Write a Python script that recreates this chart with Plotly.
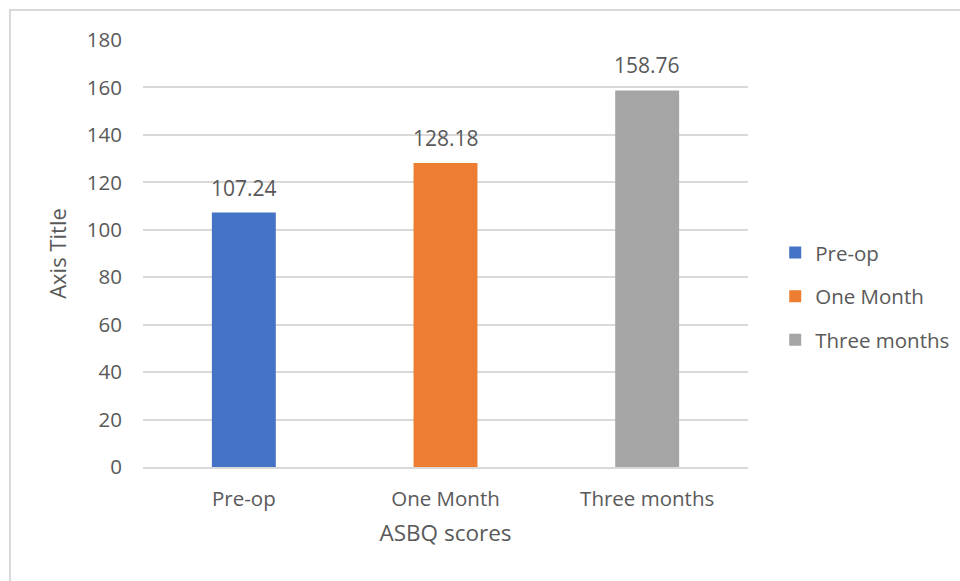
import plotly.graph_objects as go

# ASBQ scores at each follow-up point
categories = ["Pre-op", "One Month", "Three months"]
scores = [107.24, 128.18, 158.76]
colors = ["#4472C4", "#ED7D31", "#A5A5A5"]
y_ticks = [0, 20, 40, 60, 80, 100, 120, 140, 160, 180]

FONT = "Open Sans, Noto Sans, sans-serif"
TEXT = "#595959"

fig = go.Figure()
for i, (cat, val, col) in enumerate(zip(categories, scores, colors)):
    fig.add_trace(go.Bar(
        x=[cat], y=[val], name=cat,
        marker=dict(color=col, line=dict(width=0)),
        width=0.317,
        legendgroup=f"g{i}",
    ))
    # value label above each bar
    fig.add_annotation(
        x=cat, y=val, text=f"{val:.2f}", showarrow=False,
        yanchor="bottom", yshift=9,
        font=dict(size=21, color=TEXT, family=FONT),
    )

fig.update_layout(
    width=960, height=581,
    margin=dict(l=143, r=212, t=40, b=114, autoexpand=False),
    paper_bgcolor="white", plot_bgcolor="white",
    barmode="overlay",
    font=dict(family=FONT, size=20, color=TEXT),
    showlegend=True,
    legend=dict(
        x=1.045, y=0.40, xanchor="left", yanchor="middle",
        traceorder="grouped", tracegroupgap=14,
        font=dict(size=20.5, color=TEXT, family=FONT),
        itemclick=False,
    ),
    xaxis=dict(
        categoryorder="array", categoryarray=categories,
        showgrid=False, showline=True, linecolor="#d9d9d9", linewidth=1.5,
        ticks="", tickfont=dict(size=20.5, color=TEXT),
        ticklabelstandoff=13,
        title=dict(text="ASBQ scores", font=dict(size=22.5, color=TEXT), standoff=14),
    ),
    yaxis=dict(
        range=[0, 180], tickvals=y_ticks, showgrid=True,
        gridcolor="#d9d9d9", gridwidth=1.5, zeroline=False,
        showline=False, ticks="", tickfont=dict(size=20.5, color=TEXT),
        ticklabelstandoff=20,
        title=dict(text="Axis Title", font=dict(size=22, color=TEXT), standoff=14),
    ),
    shapes=[dict(
        type="rect", xref="paper", yref="paper",
        x0=(10 - 143) / 605, x1=(965 - 143) / 605,
        y0=(467 - 590) / 427, y1=1 + 30 / 427,
        line=dict(color="#d9d9d9", width=2), fillcolor="rgba(0,0,0,0)",
        layer="below",
    )],
)

fig.write_html("out.html")
